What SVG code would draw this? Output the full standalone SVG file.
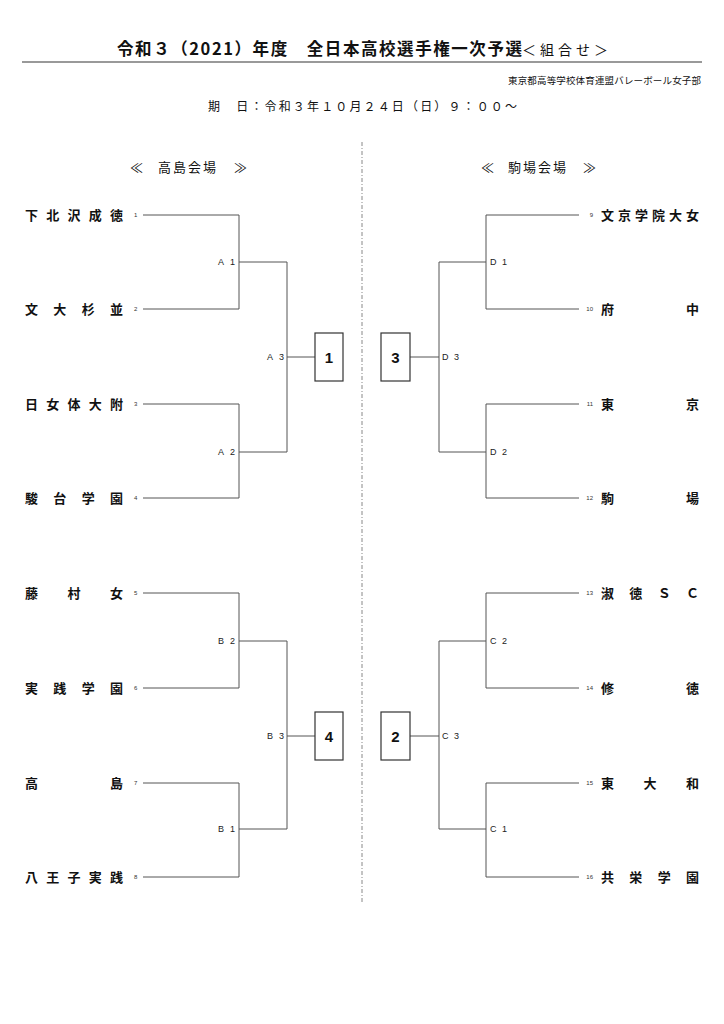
<svg xmlns="http://www.w3.org/2000/svg" width="724" height="1024" viewBox="0 0 724 1024">
<style>
.ln{stroke:#555;stroke-width:1;fill:none}
.box{fill:#fff;stroke:#333;stroke-width:1.2}
.jp{font-family:"Noto Sans CJK JP","Noto Sans CJK SC",sans-serif;fill:#111}
.nm{font-family:"Noto Sans CJK JP",sans-serif;font-size:13px;font-weight:700;fill:#111}
.no{font-family:"Liberation Sans",sans-serif;font-size:6px;fill:#333}
.lb{font-family:"Liberation Sans",sans-serif;font-size:9px;fill:#222}
.no.r{text-anchor:end}
.bn{font-family:"Liberation Sans",sans-serif;font-size:15px;font-weight:700;fill:#111;text-anchor:middle}
</style>
<rect width="724" height="1024" fill="#fff"/>
<g id="header">
<text class="jp" x="117" y="54.5" font-size="16.5" font-weight="700" textLength="405" lengthAdjust="spacing">令和３（2021）年度　全日本高校選手権一次予選</text>
<text class="jp" x="522" y="54.5" font-size="14" textLength="86" lengthAdjust="spacing">＜組合せ＞</text>
<line x1="22" y1="62" x2="702" y2="62" stroke="#777" stroke-width="1.5"/>
<text class="jp" x="508" y="84" font-size="9.5" textLength="193" lengthAdjust="spacing">東京都高等学校体育連盟バレーボール女子部</text>
<text class="jp" x="208" y="111" font-size="12" textLength="309" lengthAdjust="spacing">期　日：令和３年１０月２４日（日）９：００～</text>
<text class="jp" y="171.5" font-size="13" x="130 143 158 173 188 203 221">≪　高島会場　≫</text>
<text class="jp" y="171.5" font-size="13" x="481 494 508 523 538 553 570">≪　駒場会場　≫</text>
</g>
<line id="divider" x1="362" y1="142" x2="362" y2="902" stroke="#888" stroke-width="1" stroke-dasharray="4 2 1 2"/>
<g id="connectors" class="ln">
<path d="M143 215H239V309H143M239 262H287M143 404H239V498H143M239 452H287M287 262V452M287 357H315"/>
<path d="M143 593H239V688H143M239 641H287M143 783H239V877H143M239 829H287M287 641V829M287 736H315"/>
<path d="M579 215H486V309H579M486 262H439M579 404H486V498H579M486 452H439M439 262V452M439 357H410"/>
<path d="M579 593H486V688H579M486 641H439M579 783H486V877H579M486 829H439M439 641V829M439 736H410"/>
</g>
<g id="team1"><text class="nm" y="220" x="25 46.25 67.5 88.75 110">下北沢成徳</text><text class="no" x="134" y="217">1</text></g>
<g id="team2"><text class="nm" y="314" x="25 53.3 81.7 110">文大杉並</text><text class="no" x="134" y="311">2</text></g>
<g id="team3"><text class="nm" y="409" x="25 46.25 67.5 88.75 110">日女体大附</text><text class="no" x="134" y="406">3</text></g>
<g id="team4"><text class="nm" y="503" x="25 53.3 81.7 110">駿台学園</text><text class="no" x="134" y="500">4</text></g>
<g id="team5"><text class="nm" y="598" x="25 67.5 110">藤村女</text><text class="no" x="134" y="595">5</text></g>
<g id="team6"><text class="nm" y="693" x="25 53.3 81.7 110">実践学園</text><text class="no" x="134" y="690">6</text></g>
<g id="team7"><text class="nm" y="788" x="25 110">高島</text><text class="no" x="134" y="785">7</text></g>
<g id="team8"><text class="nm" y="882" x="25 46.25 67.5 88.75 110">八王子実践</text><text class="no" x="134" y="879">8</text></g>
<g id="team9"><text class="nm" y="220" x="601 618 635 652 669 686">文京学院大女</text><text class="no r" x="593" y="217">9</text></g>
<g id="team10"><text class="nm" y="314" x="601 686">府中</text><text class="no r" x="593" y="311">10</text></g>
<g id="team11"><text class="nm" y="409" x="601 686">東京</text><text class="no r" x="593" y="406">11</text></g>
<g id="team12"><text class="nm" y="503" x="601 686">駒場</text><text class="no r" x="593" y="500">12</text></g>
<g id="team13"><text class="nm" y="598" x="601 629.3 657.7 686">淑徳ＳＣ</text><text class="no r" x="593" y="595">13</text></g>
<g id="team14"><text class="nm" y="693" x="601 686">修徳</text><text class="no r" x="593" y="690">14</text></g>
<g id="team15"><text class="nm" y="788" x="601 643.5 686">東大和</text><text class="no r" x="593" y="785">15</text></g>
<g id="team16"><text class="nm" y="882" x="601 629.3 657.7 686">共栄学園</text><text class="no r" x="593" y="879">16</text></g>
<g id="matchA1"><text class="lb" x="218" y="265.2" textLength="17" lengthAdjust="spacing">A 1</text></g>
<g id="matchA2"><text class="lb" x="218" y="455.2" textLength="17" lengthAdjust="spacing">A 2</text></g>
<g id="matchA3"><text class="lb" x="267" y="360.2" textLength="17" lengthAdjust="spacing">A 3</text></g>
<g id="matchB2"><text class="lb" x="218" y="644.2" textLength="17" lengthAdjust="spacing">B 2</text></g>
<g id="matchB1"><text class="lb" x="218" y="832.2" textLength="17" lengthAdjust="spacing">B 1</text></g>
<g id="matchB3"><text class="lb" x="267" y="739.2" textLength="17" lengthAdjust="spacing">B 3</text></g>
<g id="matchD1"><text class="lb" x="490" y="265.2" textLength="17" lengthAdjust="spacing">D 1</text></g>
<g id="matchD2"><text class="lb" x="490" y="455.2" textLength="17" lengthAdjust="spacing">D 2</text></g>
<g id="matchD3"><text class="lb" x="442" y="360.2" textLength="17" lengthAdjust="spacing">D 3</text></g>
<g id="matchC2"><text class="lb" x="490" y="644.2" textLength="17" lengthAdjust="spacing">C 2</text></g>
<g id="matchC1"><text class="lb" x="490" y="832.2" textLength="17" lengthAdjust="spacing">C 1</text></g>
<g id="matchC3"><text class="lb" x="442" y="739.2" textLength="17" lengthAdjust="spacing">C 3</text></g>
<g id="box1"><rect class="box" x="315" y="333" width="28" height="48"/><text class="bn" x="329" y="362.5">1</text></g>
<g id="box3"><rect class="box" x="381" y="333" width="29" height="48"/><text class="bn" x="395.5" y="362.5">3</text></g>
<g id="box4"><rect class="box" x="315" y="712" width="28" height="48"/><text class="bn" x="329" y="741.5">4</text></g>
<g id="box2"><rect class="box" x="381" y="712" width="29" height="48"/><text class="bn" x="395.5" y="741.5">2</text></g>
</svg>
